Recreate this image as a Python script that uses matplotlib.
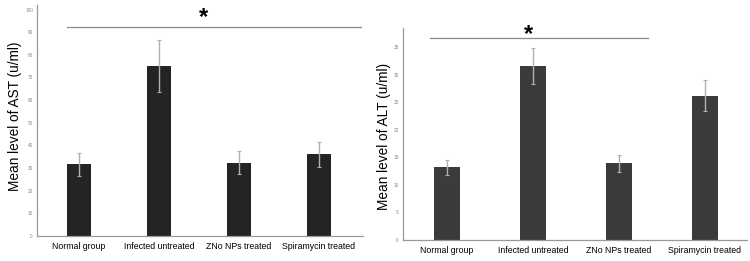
import numpy as np
import matplotlib
matplotlib.use("Agg")
import matplotlib.pyplot as plt

plt.rcParams['font.family'] = ['Liberation Sans', 'DejaVu Sans']

groups = ["Normal group", "Infected untreated", "ZNo NPs treated", "Spiramycin treated"]

ast_mean = [31.7, 75.2, 32.4, 36.1]
ast_err = [5.0, 11.5, 5.0, 5.5]
ast_ticks = [0, 10, 20, 30, 40, 50, 60, 70, 80, 90, 100]

alt_mean = [13.2, 31.6, 13.9, 26.2]
alt_err = [1.4, 3.2, 1.5, 2.8]
alt_ticks = [0, 5, 10, 15, 20, 25, 30, 35]

# significance bars: (x start, x end, y)
ast_sig = (-0.15, 3.53, 92.5)
alt_sig = (-0.2, 2.34, 36.7)

fig = plt.figure(figsize=(7.5, 2.61), dpi=100)
ax1 = fig.add_axes([37 / 750, 1 - 236 / 261, 326 / 750, 231 / 261])
ax2 = fig.add_axes([403 / 750, 1 - 240 / 261, 344 / 750, 212 / 261])


def draw(ax, means, errs, ticks, ylim, xlim, color, width, ylabel, sig, star_y, star_x, label_x, label_y):
    x = np.arange(len(groups))
    ax.bar(x, means, width=width, color=color, yerr=errs,
           error_kw=dict(ecolor="#b0b0b0", elinewidth=1.0, capsize=1.5, capthick=0.8))
    ax.set_xlim(*xlim)
    ax.set_ylim(*ylim)
    ax.set_yticks(ticks)
    ax.set_yticklabels([str(t) for t in ticks], fontsize=3.4, color="#888888")
    ax.set_xticks(x)
    ax.set_xticklabels(groups, fontsize=6.3)
    ax.tick_params(axis="both", length=0)
    ax.tick_params(axis="y", pad=3)
    ax.tick_params(axis="x", pad=4)
    for s in ["top", "right"]:
        ax.spines[s].set_visible(False)
    for s in ["left", "bottom"]:
        ax.spines[s].set_color("#999999")
        ax.spines[s].set_linewidth(0.9)
    ax.set_ylabel(ylabel, fontsize=9.8)
    ax.yaxis.set_label_coords(label_x, label_y)
    ax.plot([sig[0], sig[1]], [sig[2], sig[2]], color="#8a8a8a", lw=0.9, clip_on=False)
    ax.text(star_x, star_y, "*", fontsize=17, fontweight="bold", ha="center", va="center", clip_on=False)


draw(ax1, ast_mean, ast_err, ast_ticks, (0, 102), (-0.525, 3.55), "#242424", 0.3,
     "Mean level of AST (u/ml)", ast_sig, 96.5, 1.56, -0.047, 0.52)
draw(ax2, alt_mean, alt_err, alt_ticks, (0, 38.5), (-0.51, 3.49), "#3b3b3b", 0.31,
     "Mean level of ALT (u/ml)", alt_sig, 37.4, 0.95, -0.035, 0.49)

fig.savefig("out.png", dpi=100)
